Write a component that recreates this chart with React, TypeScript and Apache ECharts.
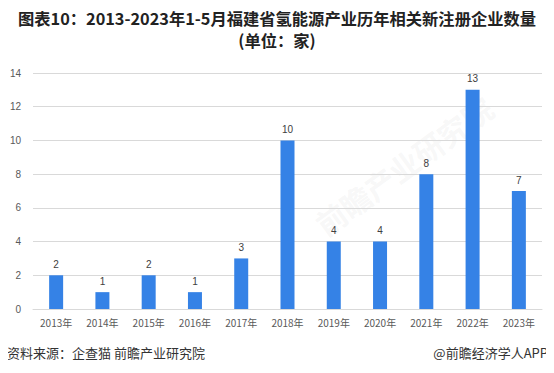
import React, { useEffect, useRef } from "react";
import * as echarts from "echarts";

const categories = ["2013年", "2014年", "2015年", "2016年", "2017年", "2018年", "2019年", "2020年", "2021年", "2022年", "2023年"];
const values = [2, 1, 2, 1, 3, 10, 4, 4, 8, 13, 7];
const titleLine1 = "图表10：2013-2023年1-5月福建省氢能源产业历年相关新注册企业数量";
const titleLine2 = "(单位：家)";
const sourceText = "资料来源：企查猫 前瞻产业研究院";
const brandText = "@前瞻经济学人APP";

export default function App() {
  const ref = useRef<HTMLDivElement>(null);
  useEffect(() => {
    if (!ref.current) return;
    const chart = echarts.init(ref.current, undefined, { renderer: "svg" });
    const titleStyle = {
      fontSize: 16.3,
      fontWeight: "bold",
      fill: "#222",
      fontFamily: "Noto Sans CJK SC",
      align: "center",
      verticalAlign: "middle",
    };
    chart.setOption({
      animation: false,
      backgroundColor: "#ffffff",
      grid: { left: 33, right: 12, top: 73, bottom: 64 },
      xAxis: {
        type: "category",
        data: categories,
        axisLine: { show: true, lineStyle: { color: "#d9d9d9" } },
        axisTick: { show: false },
        axisLabel: { color: "#595959", fontSize: 10, margin: 8, fontFamily: "Noto Sans CJK SC" },
      },
      yAxis: {
        type: "value",
        min: 0,
        max: 14,
        interval: 2,
        axisLine: { show: false },
        axisTick: { show: false },
        axisLabel: { color: "#595959", fontSize: 10, margin: 12 },
        splitLine: { lineStyle: { color: "#d9d9d9" } },
      },
      series: [
        {
          type: "bar",
          data: values,
          barWidth: 14,
          itemStyle: { color: "#3582e6" },
          label: { show: true, position: "top", color: "#404040", fontSize: 10, distance: 6 },
        },
      ],
      graphic: [
        { type: "text", x: 277, y: 18, style: { ...titleStyle, text: titleLine1 } },
        { type: "text", x: 277, y: 39.5, style: { ...titleStyle, text: titleLine2 } },
        {
          type: "text",
          x: 7,
          y: 352,
          style: { text: sourceText, fontSize: 13, fill: "#333", fontFamily: "Noto Sans CJK SC", verticalAlign: "middle" },
        },
        {
          type: "text",
          x: 548,
          y: 352,
          style: { text: brandText, fontSize: 13, fill: "#333", fontFamily: "Noto Sans CJK SC", align: "right", verticalAlign: "middle" },
        },
        {
          type: "text",
          x: 310,
          y: 215,
          rotation: Math.PI / 5,
          style: { text: "前瞻产业研究院", fontSize: 30, fontWeight: "bold", fill: "rgba(200,200,200,0.15)", fontFamily: "Noto Sans CJK SC" },
          z: -1,
        },
      ],
    });
    return () => chart.dispose();
  }, []);
  return <div ref={ref} style={{ width: 554, height: 373, margin: -8 }} />;
}
